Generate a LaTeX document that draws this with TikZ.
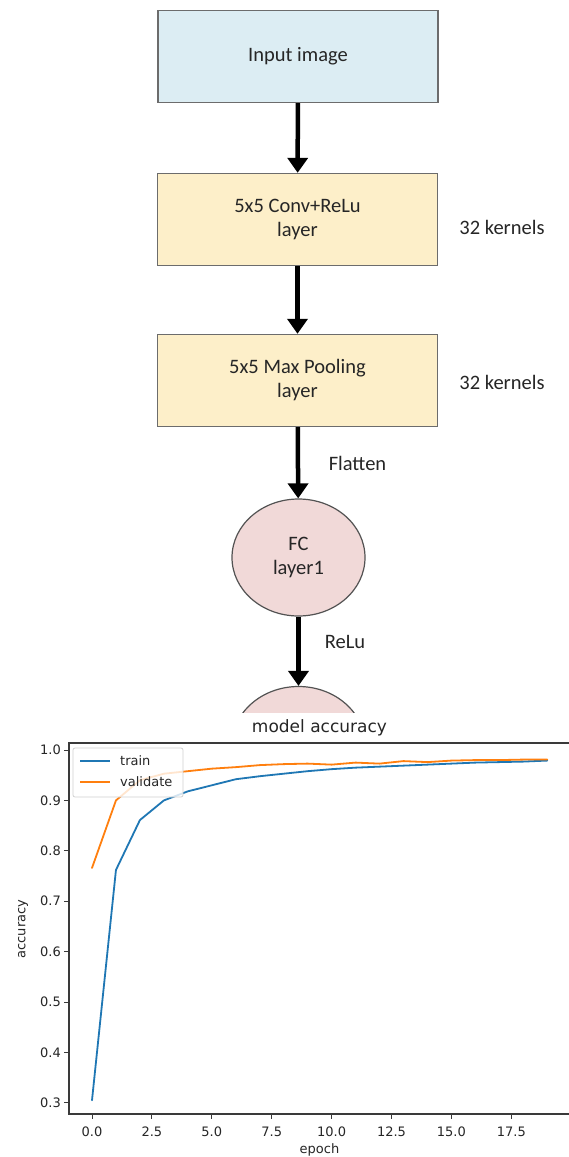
\documentclass[tikz,border=0pt]{standalone}
\usepackage{fontspec}
\setmainfont{Carlito}
\newfontfamily\dejavu{DejaVu Sans}
\usetikzlibrary{shapes.geometric,arrows.meta}
\definecolor{inpblue}{HTML}{DCEDF3}
\definecolor{layeryel}{HTML}{FDEFC9}
\definecolor{fcpink}{HTML}{F1D9D8}
\definecolor{mplblue}{HTML}{1F77B4}
\definecolor{mplorange}{HTML}{FF7F0E}
\definecolor{spinegray}{HTML}{3A3A3A}
\definecolor{txtgray}{HTML}{262626}
\begin{document}
\begin{tikzpicture}[x=1pt,y=-1pt,
  flowfont/.style={font=\fontsize{20.5}{24}\selectfont, text=txtgray},
  box/.style={flowfont, draw=gray!85!black, line width=1.4pt, minimum width=280pt, minimum height=92pt, align=center, inner sep=0pt},
  fcnode/.style={flowfont, ellipse, draw=gray!65!black, line width=1.2pt, fill=fcpink, minimum width=133pt, minimum height=117pt, inner sep=0pt, align=center},
  arr/.style={line width=4.5pt, -{Triangle[width=20pt,length=15pt]}},
  sidelabel/.style={flowfont, inner sep=0pt},
  chartfont/.style={font=\dejavu\fontsize{13}{15}\selectfont, text=txtgray, inner sep=0pt},
  spine/.style={draw=spinegray, line width=1.2pt},
  tickmark/.style={draw=spinegray, line width=1pt},
  curve/.style={line width=1.8pt, line join=round, line cap=round}]

\useasboundingbox[fill=white] (0,0) rectangle (568,1157);

% ---------- flowchart ----------
\node[box, fill=inpblue] (inp) at (298,56.5) {Input image};
\node[box, fill=layeryel] (conv) at (297.5,219.5) {5x5 Conv+ReLu\\layer};
\node[box, fill=layeryel] (pool) at (297.5,380.5) {5x5 Max Pooling\\layer};
\node[fcnode] (fc1) at (298.5,557.5) {FC\\layer1};
\begin{scope}
  \clip (0,0) rectangle (568,713);
  \node[fcnode] (fc2) at (298.5,745) {};
\end{scope}

\node[sidelabel] (k1) at (502,227) {32 kernels};
\node[sidelabel] (k2) at (502,382) {32 kernels};
\node[sidelabel] (fl) at (357.5,463) {Flatten};
\node[sidelabel] (rl) at (345,642) {ReLu};

\draw[arr] (inp) -- (conv);
\draw[arr] (conv) -- (pool);
\draw[arr] (pool) -- (fc1);
\draw[arr] (fc1) -- (fc2.north);

% ---------- chart ----------
\fill[white] (0,713) rectangle (568,1157);
\node[chartfont, font=\dejavu\fontsize{17}{20}\selectfont] (title) at (319.5,728) {model accuracy};

% data
\begin{scope}[shift={(92,1254)}, x=23.96pt, y=504pt]
  \draw[curve, mplblue] plot coordinates {(0,0.305) (1,0.762) (2,0.861) (3,0.900) (4,0.918) (5,0.930) (6,0.942) (7,0.948) (8,0.953) (9,0.958) (10,0.962) (11,0.965) (12,0.967) (13,0.969) (14,0.971) (15,0.973) (16,0.975) (17,0.976) (18,0.977) (19,0.979)};
  \draw[curve, mplorange] plot coordinates {(0,0.766) (1,0.900) (2,0.940) (3,0.953) (4,0.958) (5,0.963) (6,0.966) (7,0.970) (8,0.972) (9,0.973) (10,0.971) (11,0.975) (12,0.973) (13,0.978) (14,0.976) (15,0.979) (16,0.980) (17,0.980) (18,0.981) (19,0.981)};
\end{scope}

% spines
\draw[spine] (570,743) -- (69,743) -- (69,1114) -- (570,1114);

% y ticks
\foreach \v/\y in {0.3/1102.8, 0.4/1052.4, 0.5/1002, 0.6/951.6, 0.7/901.2, 0.8/850.8, 0.9/800.4, 1.0/750}{
  \draw[tickmark] (64,\y) -- (69,\y);
  \node[chartfont, anchor=east] at (61,\y) {\v};
}
% x ticks
\foreach \v/\x in {0.0/92, 2.5/151.9, 5.0/211.8, 7.5/271.7, 10.0/331.6, 12.5/391.5, 15.0/451.4, 17.5/511.3}{
  \draw[tickmark] (\x,1114) -- (\x,1119);
  \node[chartfont] at (\x,1132) {\v};
}
\node[chartfont] (xlab) at (319.5,1150) {epoch};
\node[chartfont, rotate=90] (ylab) at (23,929) {accuracy};

% legend
\draw[draw=black!18, fill=white, fill opacity=0.8, rounded corners=2pt, line width=0.8pt] (73,748) rectangle (183,797);
\draw[curve, mplblue, line cap=butt] (80,761) -- (110,761);
\draw[curve, mplorange, line cap=butt] (80,782) -- (110,782);
\node[chartfont, anchor=west] (lt) at (120,761) {train};
\node[chartfont, anchor=west] (lv) at (120,782) {validate};
\end{tikzpicture}
\end{document}
